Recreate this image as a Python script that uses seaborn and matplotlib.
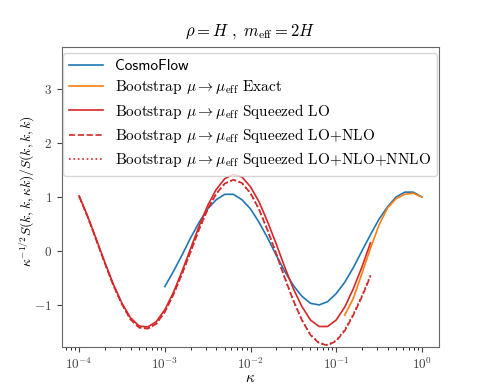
import numpy as np
import pandas as pd
import matplotlib
matplotlib.use("Agg")
import matplotlib.pyplot as plt
import seaborn as sns

# ---- data (log10 kappa grid and values) ----
logk_red = [-4.0, -3.9, -3.8, -3.7, -3.6, -3.5, -3.4, -3.3, -3.2, -3.1, -3.0,
            -2.9, -2.8, -2.7, -2.6, -2.5, -2.4, -2.3, -2.2, -2.1, -2.0,
            -1.9, -1.8, -1.7, -1.6, -1.5, -1.4, -1.3, -1.2, -1.1, -1.0,
            -0.9, -0.8, -0.7, -0.6]
lo = [1.02, 0.64, 0.22, -0.21, -0.62, -0.97, -1.24, -1.39, -1.41, -1.31, -1.09,
      -0.77, -0.38, 0.04, 0.46, 0.84, 1.14, 1.34, 1.42, 1.37, 1.19,
      0.91, 0.54, 0.13, -0.30, -0.70, -1.03, -1.28, -1.40, -1.40, -1.28,
      -1.04, -0.70, -0.30, 0.15]
lo_nlo = [1.01, 0.63, 0.20, -0.23, -0.64, -0.99, -1.27, -1.42, -1.44, -1.35, -1.13,
          -0.81, -0.43, -0.02, 0.40, 0.77, 1.06, 1.25, 1.32, 1.26, 1.07,
          0.77, 0.38, -0.05, -0.50, -0.92, -1.28, -1.56, -1.71, -1.75, -1.67,
          -1.48, -1.19, -0.85, -0.47]
lo_nlo_nnlo = [1.01, 0.63, 0.20, -0.23, -0.64, -0.99, -1.27, -1.42, -1.44, -1.35, -1.13,
               -0.81, -0.43, -0.02, 0.40, 0.77, 1.06, 1.25, 1.32, 1.26, 1.07,
               0.77, 0.38, -0.05, -0.50, -0.92, -1.28, -1.55, -1.70, -1.74, -1.66,
               -1.46, -1.17, -0.83, -0.45]

logk_cf = [-3.0, -2.9, -2.8, -2.7, -2.6, -2.5, -2.4, -2.3, -2.2, -2.1, -2.0,
           -1.9, -1.8, -1.7, -1.6, -1.5, -1.4, -1.3, -1.2, -1.1, -1.0,
           -0.9, -0.8, -0.7, -0.6, -0.5, -0.4, -0.3, -0.2, -0.1, 0.0]
cosmoflow = [-0.66, -0.38, -0.08, 0.24, 0.53, 0.78, 0.95, 1.05, 1.05, 0.95, 0.78,
             0.53, 0.24, -0.08, -0.38, -0.64, -0.84, -0.97, -1.00, -0.94, -0.79,
             -0.58, -0.31, 0.00, 0.30, 0.59, 0.82, 1.00, 1.09, 1.09, 1.00]

logk_ex = [-0.9, -0.8, -0.7, -0.6, -0.5, -0.4, -0.3, -0.2, -0.1, 0.0]
exact = [-1.19, -0.88, -0.42, 0.05, 0.48, 0.80, 0.97, 1.05, 1.07, 1.00]

labels = ["CosmoFlow",
          r"Bootstrap $\mu \to \mu_{\rm eff}$ Exact",
          r"Bootstrap $\mu \to \mu_{\rm eff}$ Squeezed LO",
          r"Bootstrap $\mu \to \mu_{\rm eff}$ Squeezed LO+NLO",
          r"Bootstrap $\mu \to \mu_{\rm eff}$ Squeezed LO+NLO+NNLO"]

plt.rcParams["font.family"] = ["cmr10", "DejaVu Serif"]
plt.rcParams["mathtext.fontset"] = "cm"
plt.rcParams["axes.formatter.use_mathtext"] = True
plt.rcParams["axes.unicode_minus"] = True

W, H = 488, 391
fig = plt.figure(figsize=(W / 100, H / 100), dpi=100)
ax = fig.add_axes([62 / W, 1 - 347 / H, (439 - 62) / W, (347 - 47) / H])

k_red = [10 ** v for v in logk_red]
k_cf = [10 ** v for v in logk_cf]
k_ex = [10 ** v for v in logk_ex]

lw = 1.2
sns.lineplot(x=k_cf, y=cosmoflow, ax=ax, color="#1f77b4", lw=lw, label=labels[0])
sns.lineplot(x=k_ex, y=exact, ax=ax, color="#ff7f0e", lw=lw, label=labels[1])
sns.lineplot(x=k_red, y=lo, ax=ax, color="#d62728", lw=lw, label=labels[2])
sns.lineplot(x=k_red, y=lo_nlo, ax=ax, color="#d62728", lw=lw, ls="--", label=labels[3])
sns.lineplot(x=k_red, y=lo_nlo_nnlo, ax=ax, color="#d62728", lw=lw, ls=":", label=labels[4])

ax.set_xscale("log")
ax.set_xlim(10 ** -4.2, 10 ** 0.2)
ax.set_ylim(-1.78, 3.78)
ax.set_yticks([-1, 0, 1, 2, 3])
ax.tick_params(labelsize=9.5, colors="0.25")
for s in ax.spines.values():
    s.set_color("0.4")
ax.set_xlabel(r"$\kappa$", fontsize=11)
ax.xaxis.set_label_coords(0.5, -0.082)
ax.set_ylabel(r"$\kappa^{-1/2}S(k,k,\kappa k)/S(k,k,k)$", fontsize=9.8)
ax.yaxis.set_label_coords(-0.066, 0.52)
ax.set_title(r"$\rho = H\ ,\ m_{\rm eff} = 2H$", fontsize=12, pad=8)

handles, labs = ax.get_legend_handles_labels()


def make_legend(fs):
    lg = ax.legend(handles, labs, loc="upper left", fontsize=fs, frameon=True,
                   labelspacing=0.35, handlelength=2.2, borderaxespad=0,
                   bbox_to_anchor=(1 / (439 - 62), 1 - 6 / 300))
    lg.get_texts()[0].set_family("cmss10")
    return lg


fs = 11.0
leg = make_legend(fs)
target = 437 - 63
for _ in range(3):
    fig.canvas.draw()
    bb = leg.get_window_extent(fig.canvas.get_renderer())
    fs = fs * target / bb.width
    leg.remove()
    leg = make_legend(fs)

fig.savefig("out.png", dpi=100)
